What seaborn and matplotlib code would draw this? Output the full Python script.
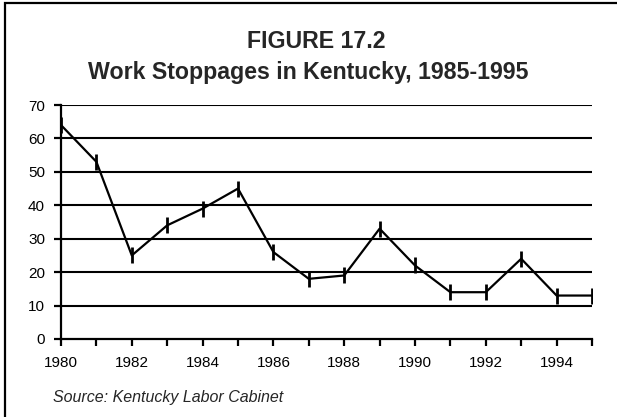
import matplotlib
matplotlib.use("Agg")
import matplotlib.pyplot as plt
import seaborn as sns
import pandas as pd
from matplotlib.patches import Rectangle

years = [1980, 1981, 1982, 1983, 1984, 1985, 1986, 1987, 1988, 1989, 1990, 1991, 1992, 1993, 1994, 1995]
stoppages = [64, 53, 25, 34, 39, 45, 26, 18, 19, 33, 22, 14, 14, 24, 13, 13]
y_ticks = [0, 10, 20, 30, 40, 50, 60, 70]
x_tick_labels = ["1980", "1982", "1984", "1986", "1988", "1990", "1992", "1994"]

title_line1 = "FIGURE 17.2"
title_line2 = "Work Stoppages in Kentucky, 1985-1995"
source = "Source: Kentucky Labor Cabinet"

sns.set_theme(style="white")
plt.rcParams['font.family'] = ['Liberation Sans', 'DejaVu Sans']

df = pd.DataFrame({"year": years, "stoppages": stoppages})

fig = plt.figure(figsize=(6.17, 4.17), dpi=100)
ax = fig.add_axes([61/617, 1-339/417, (592-61)/617, (339-105)/417])

for v in y_ticks[1:]:
    ax.axhline(v, color="black", lw=1.5, zorder=1)

sns.lineplot(data=df, x="year", y="stoppages", ax=ax, color="black", lw=1.6,
             marker="|", markersize=11, markeredgewidth=2, markeredgecolor="black",
             zorder=3, legend=False)

ax.set_xlim(1980, 1995)
ax.set_ylim(0, 70)
ax.set_yticks(y_ticks)
ax.set_yticklabels([str(v) for v in y_ticks])
ax.set_xticks(years)
lab = {int(s): s for s in x_tick_labels}
ax.set_xticklabels([lab.get(y, "") for y in years])
ax.set_xlabel("")
ax.set_ylabel("")
ax.grid(False)
for s in ["top", "right"]:
    ax.spines[s].set_visible(False)
for s in ["left", "bottom"]:
    ax.spines[s].set_color("black")
    ax.spines[s].set_linewidth(1.6)
ax.tick_params(axis="both", which="major", length=5, width=1.6, color="black",
               labelsize=11, labelcolor="black", direction="out", bottom=True, left=True)
ax.tick_params(axis="x", pad=7.5)
ax.tick_params(axis="y", pad=6.5)

fig.text(247/617, 1-48/417, title_line1, ha="left", va="baseline", fontsize=16.7, fontweight="bold")
fig.text(88/617, 1-78.5/417, title_line2, ha="left", va="baseline", fontsize=16.7, fontweight="bold")
fig.text(53/617, 1-402/417, source, ha="left", va="baseline", fontsize=11.5, style="italic")

fig.patches.append(Rectangle((5/617, -0.1), 1.2, 1-3/417 + 0.1, transform=fig.transFigure,
                             fill=False, edgecolor="black", lw=1.6, clip_on=False))

fig.savefig("out.png", dpi=100)
